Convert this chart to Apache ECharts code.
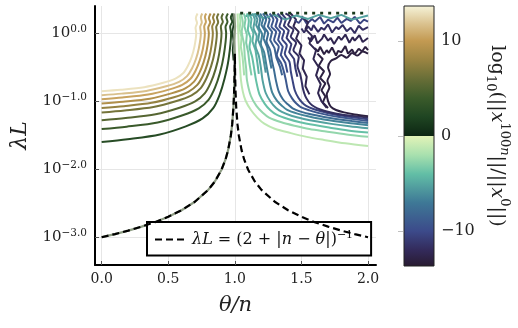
<!DOCTYPE html>
<html>
<head>
<meta charset="utf-8">
<script src="https://cdn.jsdelivr.net/npm/echarts@6/dist/echarts.min.js"></script>
<style>
  html, body { margin: 0; padding: 0; background: #fff; }
  #chart { width: 518px; height: 328px; }
</style>
</head>
<body>
<div id="chart"></div>
<script>
// x = theta/n, y = log10(lambda L)
const xTicks = [0, 0.5, 1, 1.5, 2];
const yTicks = [-3, -2, -1, 0];
const cbTicks = [-10, 0, 10];
const cbRange = [-13.7, 13.7];

// contours of log10(||x^100n|| / ||x^0||), positive levels (left family)
const leftLevels = [13, 11.7, 10.4, 9.1, 7.8, 6.5, 5.2, 3.9, 2.6];
const leftContours = [
  [[0,-0.853],[0.142,-0.832],[0.32,-0.794],[0.462,-0.73],[0.554,-0.669],[0.611,-0.59],[0.646,-0.485],[0.675,-0.355],[0.696,-0.205],[0.71,0],[0.705,0.08],[0.716,0.15],[0.707,0.22],[0.72,0.29]],
  [[0,-0.912],[0.149,-0.889],[0.335,-0.849],[0.484,-0.781],[0.581,-0.715],[0.641,-0.631],[0.678,-0.519],[0.708,-0.379],[0.73,-0.219],[0.745,0],[0.74,0.09],[0.752,0.16],[0.745,0.23],[0.755,0.29]],
  [[0,-0.97],[0.155,-0.946],[0.349,-0.903],[0.504,-0.83],[0.605,-0.76],[0.667,-0.671],[0.705,-0.552],[0.736,-0.404],[0.76,-0.233],[0.775,0],[0.77,0.1],[0.783,0.17],[0.775,0.24],[0.785,0.29]],
  [[0,-1.034],[0.161,-1.008],[0.362,-0.963],[0.523,-0.885],[0.628,-0.811],[0.692,-0.716],[0.733,-0.588],[0.765,-0.43],[0.789,-0.248],[0.805,0],[0.8,0.08],[0.815,0.16],[0.805,0.22],[0.818,0.29]],
  [[0,-1.1],[0.167,-1.073],[0.376,-1.024],[0.543,-0.942],[0.651,-0.862],[0.718,-0.761],[0.76,-0.626],[0.793,-0.458],[0.818,-0.264],[0.835,0],[0.83,0.1],[0.845,0.17],[0.836,0.23],[0.848,0.29]],
  [[0,-1.166],[0.173,-1.137],[0.389,-1.086],[0.562,-0.998],[0.675,-0.914],[0.744,-0.807],[0.787,-0.663],[0.822,-0.485],[0.848,-0.28],[0.865,0],[0.86,0.09],[0.875,0.16],[0.866,0.23],[0.878,0.29]],
  [[0,-1.28],[0.18,-1.248],[0.405,-1.192],[0.585,-1.096],[0.702,-1.004],[0.774,-0.886],[0.819,-0.728],[0.855,-0.532],[0.882,-0.307],[0.9,0],[0.895,0.1],[0.91,0.17],[0.9,0.23],[0.912,0.29]],
  [[0,-1.41],[0.187,-1.375],[0.421,-1.313],[0.608,-1.207],[0.729,-1.105],[0.804,-0.976],[0.851,-0.802],[0.888,-0.587],[0.916,-0.338],[0.935,0],[0.93,0.09],[0.945,0.17],[0.936,0.23],[0.948,0.29]],
  [[0,-1.6],[0.194,-1.56],[0.437,-1.49],[0.632,-1.37],[0.758,-1.254],[0.836,-1.107],[0.885,-0.91],[0.923,-0.666],[0.953,-0.384],[0.972,0],[0.965,0.1],[0.98,0.17],[0.97,0.23],[0.982,0.29]]
];

// negative levels (right family)
const rightLevels = [-1.3, -2.6, -3.9, -5.2, -6.5, -7.8, -9.1, -10.4, -11.7, -13];
const rightContours = [
  [[1.02,0.29],[1.024,0.1],[1.028,-0.1],[1.033,-0.3],[1.039,-0.5],[1.046,-0.69],[1.06,-0.86],[1.08,-0.99],[1.121,-1.13],[1.17,-1.245],[1.221,-1.33],[1.3,-1.405],[1.421,-1.47],[1.54,-1.525],[1.67,-1.57],[1.83,-1.62],[2.0,-1.66]],
  [[1.045,0.29],[1.06,0.15],[1.052,0.02],[1.068,-0.15],[1.075,-0.35],[1.085,-0.52],[1.091,-0.69],[1.12,-0.92],[1.162,-1.069],[1.21,-1.17],[1.257,-1.241],[1.35,-1.31],[1.448,-1.361],[1.56,-1.41],[1.685,-1.447],[1.84,-1.49],[2.0,-1.525]],
  [[1.09,0.29],[1.105,0.18],[1.098,0.05],[1.118,-0.08],[1.11,-0.2],[1.13,-0.35],[1.145,-0.52],[1.159,-0.69],[1.185,-0.9],[1.225,-1.04],[1.265,-1.13],[1.313,-1.198],[1.4,-1.262],[1.489,-1.309],[1.6,-1.352],[1.708,-1.388],[1.85,-1.43],[2.0,-1.46]],
  [[1.13,0.29],[1.15,0.2],[1.14,0.08],[1.165,-0.05],[1.155,-0.18],[1.18,-0.33],[1.195,-0.5],[1.208,-0.69],[1.232,-0.88],[1.27,-1.012],[1.31,-1.1],[1.353,-1.159],[1.43,-1.218],[1.518,-1.261],[1.62,-1.3],[1.725,-1.334],[1.86,-1.37],[2.0,-1.4]],
  [[1.17,0.29],[1.19,0.2],[1.18,0.1],[1.205,-0.02],[1.195,-0.15],[1.22,-0.28],[1.235,-0.45],[1.258,-0.69],[1.28,-0.87],[1.316,-0.991],[1.355,-1.07],[1.393,-1.128],[1.47,-1.183],[1.549,-1.223],[1.64,-1.26],[1.742,-1.291],[1.87,-1.325],[2.0,-1.353]],
  [[1.21,0.29],[1.235,0.2],[1.22,0.1],[1.25,0],[1.238,-0.12],[1.265,-0.25],[1.28,-0.42],[1.295,-0.55],[1.308,-0.69],[1.33,-0.86],[1.362,-0.976],[1.4,-1.05],[1.434,-1.106],[1.5,-1.158],[1.579,-1.197],[1.67,-1.232],[1.759,-1.261],[1.88,-1.293],[2.0,-1.32]],
  [[1.26,0.29],[1.29,0.2],[1.275,0.1],[1.31,0.02],[1.295,-0.1],[1.33,-0.2],[1.315,-0.32],[1.35,-0.45],[1.37,-0.58],[1.383,-0.69],[1.4,-0.85],[1.431,-0.962],[1.46,-1.03],[1.495,-1.086],[1.56,-1.135],[1.624,-1.172],[1.7,-1.205],[1.784,-1.234],[1.89,-1.264],[2.0,-1.29]],
  [[1.32,0.29],[1.35,0.2],[1.335,0.1],[1.37,0.03],[1.355,-0.08],[1.39,-0.18],[1.375,-0.3],[1.41,-0.42],[1.42,-0.56],[1.433,-0.69],[1.45,-0.84],[1.477,-0.951],[1.505,-1.02],[1.536,-1.07],[1.59,-1.115],[1.654,-1.152],[1.72,-1.185],[1.801,-1.212],[1.9,-1.24],[2.0,-1.265]],
  [[1.38,0.29],[1.42,0.22],[1.4,0.12],[1.44,0.05],[1.42,-0.05],[1.46,-0.14],[1.44,-0.25],[1.48,-0.35],[1.47,-0.48],[1.49,-0.6],[1.5,-0.69],[1.512,-0.82],[1.53,-0.93],[1.553,-1.005],[1.58,-1.06],[1.62,-1.105],[1.67,-1.14],[1.73,-1.17],[1.8,-1.195],[1.9,-1.22],[2.0,-1.24]],
  [[2.0,-0.3],[1.96,-0.27],[1.92,-0.33],[1.88,-0.29],[1.84,-0.36],[1.8,-0.32],[1.76,-0.37],[1.72,-0.41],[1.7,-0.5],[1.715,-0.6],[1.695,-0.7],[1.71,-0.8],[1.69,-0.9],[1.7,-1.0],[1.72,-1.08],[1.76,-1.13],[1.82,-1.165],[1.9,-1.195],[2.0,-1.22]]
];

// noisy contour fragments in the upper region
const noiseLevels = [-2.0, -3.2, -4.5, -5.8, -7.1, -8.4, -9.7, -11, -12.4,
                     -13, -12.4, -11.7, -10.4, -13, -12.4, -5.2];
const noiseLines = [
  [[1.035,0.29],[1.042,0.18],[1.036,0.06],[1.05,-0.06],[1.045,-0.2],[1.058,-0.35],[1.065,-0.5],[1.07,-0.62]],
  [[1.068,0.29],[1.08,0.2],[1.072,0.1],[1.09,-0.02],[1.085,-0.14],[1.1,-0.28],[1.11,-0.45],[1.125,-0.62]],
  [[1.11,0.29],[1.125,0.21],[1.118,0.1],[1.14,0],[1.132,-0.12],[1.155,-0.25],[1.168,-0.42],[1.18,-0.6]],
  [[1.15,0.29],[1.17,0.2],[1.16,0.12],[1.185,0.02],[1.175,-0.1],[1.2,-0.22],[1.215,-0.38],[1.232,-0.58]],
  [[1.19,0.29],[1.212,0.21],[1.2,0.12],[1.228,0.03],[1.216,-0.08],[1.242,-0.2],[1.258,-0.35],[1.275,-0.52]],
  [[1.235,0.29],[1.262,0.2],[1.248,0.1],[1.28,0.02],[1.265,-0.1],[1.298,-0.22],[1.312,-0.36],[1.34,-0.5],[1.355,-0.62]],
  [[1.29,0.29],[1.32,0.2],[1.305,0.1],[1.34,0.02],[1.325,-0.1],[1.36,-0.2],[1.345,-0.32],[1.38,-0.44],[1.395,-0.58]],
  [[1.35,0.29],[1.385,0.21],[1.368,0.11],[1.405,0.04],[1.388,-0.07],[1.425,-0.16],[1.408,-0.28],[1.445,-0.38],[1.455,-0.52],[1.47,-0.64]],
  [[1.42,0.29],[1.46,0.2],[1.44,0.1],[1.48,0.02],[1.46,-0.08],[1.5,-0.18],[1.485,-0.3],[1.52,-0.4],[1.51,-0.52],[1.54,-0.64],[1.53,-0.78],[1.56,-0.9]],
  [[1.6,-0.22],[1.625,-0.27],[1.64,-0.2],[1.67,-0.31],[1.69,-0.25],[1.705,-0.29],[1.73,-0.21],[1.76,-0.33],[1.775,-0.26],[1.8,-0.28],[1.83,-0.19],[1.85,-0.3],[1.88,-0.24],[1.9,-0.31],[1.93,-0.23],[1.955,-0.27],[1.98,-0.2],[2.0,-0.25]],
  [[1.55,-0.06],[1.57,-0.12],[1.6,-0.03],[1.62,-0.15],[1.655,-0.08],[1.67,-0.02],[1.7,-0.11],[1.72,-0.07],[1.745,-0.16],[1.78,-0.05],[1.8,-0.1],[1.83,-0.02],[1.86,-0.14],[1.885,-0.06],[1.9,-0.11],[1.935,-0.03],[1.96,-0.13],[2.0,-0.07]],
  [[1.5,0.07],[1.52,0.01],[1.55,0.1],[1.575,0.04],[1.59,0.12],[1.625,0.02],[1.65,0.08],[1.67,0.05],[1.7,0.13],[1.73,0.01],[1.76,0.09],[1.78,0.06],[1.81,0.12],[1.84,0.03],[1.87,0.08],[1.9,0],[1.93,0.11],[1.96,0.05],[2.0,0.09]],
  [[1.45,0.19],[1.48,0.15],[1.51,0.23],[1.54,0.14],[1.58,0.21],[1.6,0.17],[1.64,0.24],[1.67,0.14],[1.7,0.2],[1.74,0.16],[1.77,0.23],[1.8,0.15],[1.84,0.21],[1.87,0.18],[1.9,0.24],[1.94,0.14],[1.97,0.2],[2.0,0.17]],
  [[1.62,-0.3],[1.66,-0.38],[1.63,-0.48],[1.67,-0.56],[1.64,-0.66],[1.68,-0.74],[1.65,-0.84],[1.68,-0.93],[1.66,-1.02],[1.7,-1.1]],
  [[1.5,0.25],[1.55,0.16],[1.53,0.06],[1.58,-0.04],[1.56,-0.15],[1.61,-0.25],[1.59,-0.38],[1.63,-0.5],[1.61,-0.62],[1.645,-0.75],[1.625,-0.88],[1.65,-1.0],[1.69,-1.1]],
  [[1.08,0.25],[1.15,0.28],[1.22,0.22],[1.3,0.27],[1.38,0.2],[1.46,0.26],[1.55,0.21],[1.63,0.27],[1.72,0.22],[1.8,0.27],[1.88,0.2],[2.0,0.26]]
];

// low positive level fragments near theta = n and along the top edge
const specLevel = 1.3;
const specLines = [
  [[0.985,0.29],[0.992,0.15],[0.982,0.02],[0.99,-0.12],[0.984,-0.25],[0.99,-0.4]],
  [[1.04,0.295],[2.0,0.295]]
];

// zero level, runs under the dashed bound on the left
const zeroContour = [[0,-3.0],[0.1,-2.955],[0.2,-2.904],[0.3,-2.846],[0.4,-2.78],[0.5,-2.701],[0.6,-2.604],[0.7,-2.48],[0.8,-2.305],[0.85,-2.182],[0.9,-2.009],[0.93,-1.857],[0.95,-1.716],[0.97,-1.505],[0.98,-1.342],[0.99,-1.079],[0.995,-0.845],[0.998,-0.6],[1.0,-0.35],[0.996,-0.1],[1.002,0.1],[0.995,0.29]];

// dashed bound lambda L = (2 + |n - theta|)^-1
const boundX = [0,0.1,0.2,0.3,0.4,0.5,0.6,0.7,0.8,0.85,0.9,0.93,0.95,0.97,0.98,0.99,0.995,0.998,1.0,1.002,1.005,1.01,1.02,1.03,1.05,1.07,1.1,1.15,1.2,1.3,1.4,1.5,1.6,1.7,1.8,1.9,2.0];
const boundY = [-3.001,-2.955,-2.904,-2.846,-2.78,-2.701,-2.604,-2.48,-2.305,-2.182,-2.009,-1.857,-1.716,-1.505,-1.342,-1.079,-0.845,-0.602,-0.301,-0.602,-0.845,-1.079,-1.342,-1.505,-1.716,-1.857,-2.009,-2.182,-2.305,-2.48,-2.604,-2.701,-2.78,-2.846,-2.904,-2.955,-3.001];

// topo-like colormap
const cmap = [
  [-13.7,'#281a30'],[-12,'#332a5a'],[-10,'#3c4a8a'],[-7,'#3e7896'],[-4,'#62bea6'],
  [-2,'#a8e0ae'],[-0.02,'#e2f3b8'],[0.02,'#0d2613'],[2,'#1f4522'],[4,'#3b5b2b'],
  [6,'#686e37'],[8,'#9a8442'],[10,'#c39a52'],[11.7,'#d9c08c'],[13.7,'#f6f4da']
];
function toRgb(h) { return [1, 3, 5].map(i => parseInt(h.slice(i, i + 2), 16)); }
function levelColor(v) {
  for (let i = 0; i < cmap.length - 1; i++) {
    const a = cmap[i], b = cmap[i + 1];
    if (v >= a[0] && v <= b[0]) {
      const t = (v - a[0]) / (b[0] - a[0]);
      const ca = toRgb(a[1]), cb = toRgb(b[1]);
      const c = ca.map((x, k) => Math.round(x + (cb[k] - x) * t));
      return 'rgb(' + c.join(',') + ')';
    }
  }
  return v < 0 ? cmap[0][1] : cmap[cmap.length - 1][1];
}

const serif = 'DejaVu Serif';
const minus = s => String(s).replace('-', '\u2212');

function contour(pts, color, width, smooth) {
  return {
    type: 'line', data: pts, symbol: 'none', showSymbol: false, silent: true,
    smooth: smooth || false,
    lineStyle: { color: color, width: width }, xAxisIndex: 0, yAxisIndex: 0
  };
}

const series = [];
noiseLines.forEach((p, i) => series.push(contour(p, levelColor(noiseLevels[i]), 2)));
leftContours.forEach((p, i) => series.push(contour(p, levelColor(leftLevels[i]), 2, 0.3)));
rightContours.forEach((p, i) => series.push(contour(p, levelColor(rightLevels[i]), 2, 0.3)));
specLines.forEach((p, i) => {
  const s = contour(p, levelColor(specLevel), i ? 2.6 : 1.8);
  if (i) s.lineStyle.type = [3, 5];
  series.push(s);
});
series.push(contour(zeroContour, '#8e9d84', 2.2));
series.push({
  name: 'bound', type: 'line', symbol: 'none', showSymbol: false, silent: true,
  data: boundX.map((x, i) => [x, boundY[i]]),
  itemStyle: { color: '#000' },
  lineStyle: { color: '#000', width: 2.2, type: [7, 4] }, z: 5
});

const cbStops = cmap.map(s => ({
  offset: (cbRange[1] - s[0]) / (cbRange[1] - cbRange[0]), color: s[1]
})).reverse();

let chart = echarts.init(document.getElementById('chart'));
let option = {
  animation: false,
  grid: [
    { left: 95, right: 142, top: 6, bottom: 63 },
    { left: 404, top: 6, width: 30, height: 260, show: true,
      backgroundColor: new echarts.graphic.LinearGradient(0, 0, 0, 1, cbStops),
      borderColor: '#222', borderWidth: 1 }
  ],
  xAxis: [
    {
      type: 'value', gridIndex: 0, min: -0.05, max: 2.06,
      name: '\u03b8/n', nameLocation: 'middle', nameGap: 30,
      nameTextStyle: { fontFamily: serif, fontStyle: 'italic', fontSize: 21, color: '#222' },
      axisLine: { onZero: false, lineStyle: { color: '#000', width: 2 } },
      axisTick: { inside: true, length: 4, customValues: xTicks, lineStyle: { color: '#555' } },
      axisLabel: { customValues: xTicks, formatter: v => v.toFixed(1), fontFamily: serif, fontSize: 14, color: '#222', margin: 7 },
      splitLine: { show: true, lineStyle: { color: '#e6e6e6', width: 1 } }
    },
    { type: 'value', gridIndex: 1, min: 0, max: 1, show: false }
  ],
  yAxis: [
    {
      type: 'value', gridIndex: 0, min: -3.41, max: 0.4,
      name: '\u03bbL', nameLocation: 'middle', nameGap: 64, nameRotate: 90,
      nameTextStyle: { fontFamily: serif, fontStyle: 'italic', fontSize: 22, color: '#222' },
      axisLine: { onZero: false, lineStyle: { color: '#000', width: 2 } },
      axisTick: { inside: true, length: 4, customValues: yTicks, lineStyle: { color: '#555' } },
      axisLabel: {
        customValues: yTicks, margin: 8,
        formatter: v => '{b|10}{s|' + minus(v.toFixed(1)) + '}',
        rich: {
          b: { fontFamily: serif, fontSize: 15, color: '#222', lineHeight: 19 },
          s: { fontFamily: serif, fontSize: 10.5, color: '#222', verticalAlign: 'top', lineHeight: 10 }
        }
      },
      splitLine: { show: true, lineStyle: { color: '#e6e6e6', width: 1 } }
    },
    {
      type: 'value', gridIndex: 1, min: cbRange[0], max: cbRange[1], position: 'right',
      axisLine: { show: false },
      axisTick: { show: true, inside: true, length: 6, customValues: cbTicks, lineStyle: { color: 'rgba(150,150,150,0.6)' } },
      axisLabel: { customValues: cbTicks, formatter: v => minus(v), fontFamily: serif, fontSize: 16, color: '#222', margin: 7 },
      splitLine: { show: false }
    }
  ],
  legend: {
    data: ['bound'], left: 147, top: 222, selectedMode: false,
    itemWidth: 32, itemHeight: 12, padding: [8, 18, 8, 7],
    itemStyle: { opacity: 0 },
    backgroundColor: '#fff', borderColor: '#000', borderWidth: 2, borderRadius: 0,
    formatter: () => '{i|\u03bbL}{t| = (2 + |}{i|n}{t| \u2212 }{i|\u03b8}{t||)}{s|\u22121}',
    textStyle: {
      rich: {
        t: { fontFamily: serif, fontSize: 16, color: '#111', lineHeight: 19 },
        i: { fontFamily: serif, fontStyle: 'italic', fontSize: 16, color: '#111', lineHeight: 19 },
        s: { fontFamily: serif, fontSize: 11, color: '#111', verticalAlign: 'top', lineHeight: 10 }
      }
    }
  },
  graphic: [
    {
      type: 'text', x: 497, y: 136, rotation: -Math.PI / 2, silent: true,
      style: {
        text: '{t|log}{b|10}{t|(||}{i|x}{s|100}{si|n}{t|||/||}{i|x}{s|0}{t|||)}',
        align: 'center', verticalAlign: 'middle',
        rich: {
          t: { fontFamily: serif, fontSize: 19, fill: '#222', lineHeight: 27 },
          i: { fontFamily: serif, fontStyle: 'italic', fontSize: 19, fill: '#222', lineHeight: 27 },
          s: { fontFamily: serif, fontSize: 13, fill: '#222', verticalAlign: 'top', lineHeight: 12 },
          si: { fontFamily: serif, fontStyle: 'italic', fontSize: 13, fill: '#222', verticalAlign: 'top', lineHeight: 12 },
          b: { fontFamily: serif, fontSize: 13, fill: '#222', verticalAlign: 'bottom', lineHeight: 12 }
        }
      }
    }
  ],
  series: series
};
option && chart.setOption(option);
</script>
</body>
</html>
